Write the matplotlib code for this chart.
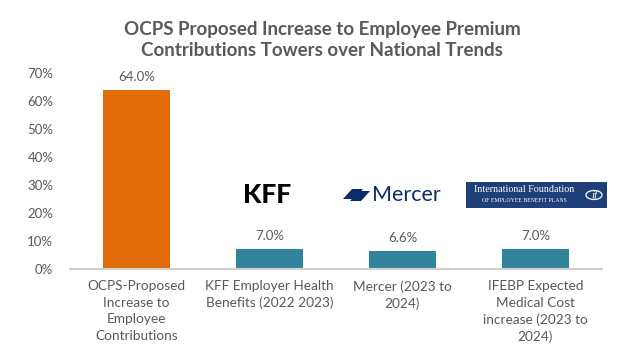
import matplotlib
matplotlib.use("Agg")
import matplotlib.pyplot as plt
from matplotlib.patches import Rectangle, Polygon, Circle

# data
categories = ["OCPS-Proposed\nIncrease to\nEmployee\nContributions",
              "KFF Employer Health\nBenefits (2022 2023)",
              "Mercer (2023 to\n2024)",
              "IFEBP Expected\nMedical Cost\nincrease (2023 to\n2024)"]
values = [64.0, 7.0, 6.6, 7.0]
yticks = [0, 10, 20, 30, 40, 50, 60, 70]
title = "OCPS Proposed Increase to Employee Premium\nContributions Towers over National Trends"

orange = "#E36C0A"
teal = "#31849B"
grey = "#595959"
plt.rcParams['font.family'] = ['Lato', 'DejaVu Sans']

fig = plt.figure(figsize=(6.24, 3.51), dpi=100)
ax = fig.add_axes([70/624, 82/351, 532/624, 196/351])

colors = [orange] + [teal] * (len(values) - 1)
x = range(len(values))
bars = ax.bar(x, values, width=0.51, color=colors, zorder=2)
for b, v in zip(bars, values):
    ax.annotate(f"{v:.1f}%", (b.get_x() + b.get_width()/2, v),
                xytext=(0, 5), textcoords="offset points",
                ha="center", va="bottom", fontsize=9.5, color=grey)

ax.set_xlim(-0.5, len(values) - 0.5)
ax.set_ylim(0, 70)
ax.set_yticks(yticks)
ax.set_yticklabels([f"{t}%" for t in yticks], fontsize=9.5, color=grey)
ax.set_xticks(list(x))
ax.set_xticklabels(categories, fontsize=9.8, color=grey, linespacing=1.45)
ax.tick_params(length=0)
ax.tick_params(axis="y", pad=12)
ax.tick_params(axis="x", pad=8)
for s in ["top", "right", "left"]:
    ax.spines[s].set_visible(False)
ax.spines["bottom"].set_color("#D0D0D0")
ax.spines["bottom"].set_linewidth(1.5)

fig.text(322/624, 1 - 40/351, title, ha="center", va="center",
         fontsize=13.5, fontweight="bold", color=grey, linespacing=1.3)

# logos (decorative)
fig.text(267/624, 1 - 195/351, "KFF", ha="center", va="center",
         fontsize=19, fontweight="black", color="black")
navy = "#0B2C6B"
fig.patches.append(Polygon([(343/624, 1-199/351), (352/624, 1-189/351),
                            (363/624, 1-189/351), (354/624, 1-199/351)],
                           closed=True, transform=fig.transFigure,
                           facecolor=navy, edgecolor="none"))
fig.patches.append(Polygon([(350/624, 1-201/351), (359/624, 1-191/351),
                            (370/624, 1-191/351), (361/624, 1-201/351)],
                           closed=True, transform=fig.transFigure,
                           facecolor=navy, edgecolor="none"))
fig.text(406/624, 1 - 195/351, "Mercer", ha="center", va="center",
         fontsize=15.5, color=navy)
fig.patches.append(Rectangle((466/624, 1 - 208/351), 141/624, 26/351,
                             transform=fig.transFigure, facecolor="#1F3F7A",
                             edgecolor="none"))
fig.text(524/624, 1 - 190/351, "International Foundation", ha="center",
         va="center", fontsize=7.2, color="white", family="Liberation Serif")
fig.text(524/624, 1 - 201/351, "OF EMPLOYEE BENEFIT PLANS", ha="center",
         va="center", fontsize=4.2, color="white", family="Liberation Serif")
fig.patches.append(Circle((594/624, 1 - 195/351), 8/624,
                          transform=fig.transFigure, facecolor="none",
                          edgecolor="white", linewidth=0.9))
fig.text(594/624, 1 - 195/351, "if", ha="center", va="center", fontsize=8,
         style="italic", color="white", family="Liberation Serif")

fig.savefig("out.png", dpi=100, facecolor="white")
